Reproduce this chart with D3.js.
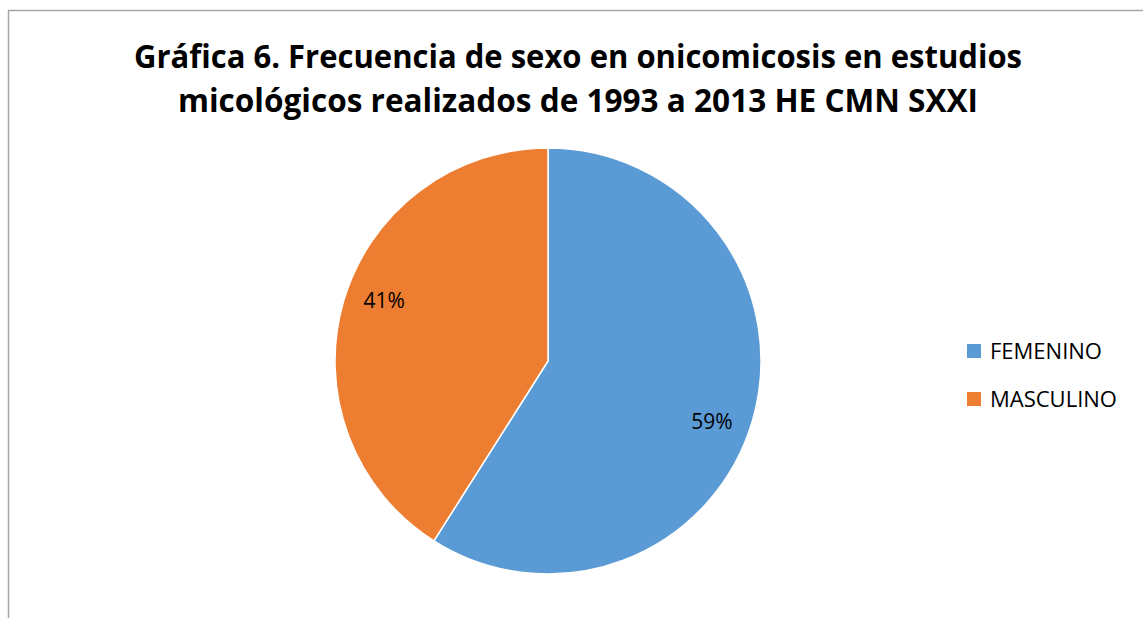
<!DOCTYPE html>
<html>
<head>
<meta charset="utf-8">
<script src="https://cdn.jsdelivr.net/npm/d3@7"></script>
<style>
  body { margin: 0; background: #fff; }
  text { font-family: "Open Sans", "Noto Sans", sans-serif; }
</style>
</head>
<body>
<svg id="chart" width="1143" height="618"></svg>
<script>
/* --- data --- */
var categories = ["FEMENINO", "MASCULINO"];
var values = [59, 41];
var colors = ["#5b9bd5", "#ed7d31"];
var titleLines = [
    "Gráfica 6. Frecuencia de sexo en onicomicosis en estudios",
    "micológicos realizados de 1993 a 2013 HE CMN SXXI"
];

/* --- layout --- */
var width = 1143, height = 618;
var cx = 548, cy = 361, radius = 213;

var svg = d3.select("#chart");

// chart frame (only left & top edges fall inside the picture)
svg.append("rect")
    .attr("x", 8.5).attr("y", 10.5)
    .attr("width", 1200).attr("height", 700)
    .attr("fill", "none")
    .attr("stroke", "#a6a6a6")
    .attr("stroke-width", 1.5);

// title
var titleWidths = [888, 800];
svg.append("g").selectAll("text")
    .data(titleLines)
    .join("text")
    .attr("x", 578)
    .attr("y", (d, i) => 68 + i * 44)
    .attr("text-anchor", "middle")
    .attr("font-size", 33)
    .attr("font-weight", "bold")
    .attr("fill", "#000")
    .attr("textLength", (d, i) => titleWidths[i])
    .attr("lengthAdjust", "spacingAndGlyphs")
    .text(d => d);

// pie
var pie = d3.pie().sort(null).value(d => d);
var arc = d3.arc().innerRadius(0).outerRadius(radius);
var arcs = pie(values);

var g = svg.append("g").attr("transform", "translate(" + cx + "," + cy + ")");

g.selectAll("path")
    .data(arcs)
    .join("path")
    .attr("d", arc)
    .attr("fill", (d, i) => colors[i])
    .attr("stroke", "#fff")
    .attr("stroke-width", 1.5);

// data labels (Excel puts them a bit further round than the mid-angle)
var labelArc = d3.arc().innerRadius(radius * 0.82).outerRadius(radius * 0.82);
g.selectAll("text.lbl")
    .data(arcs)
    .join("text")
    .attr("class", "lbl")
    .attr("transform", d => {
        var shifted = {startAngle: d.startAngle + 0.07, endAngle: d.endAngle + 0.07};
        return "translate(" + labelArc.centroid(shifted) + ")";
    })
    .attr("text-anchor", "middle")
    .attr("dy", "0.35em")
    .attr("font-size", 21)
    .attr("fill", "#000")
    .text(d => d.value + "%");

// legend
var legend = svg.append("g").attr("transform", "translate(967,344)");
var item = legend.selectAll("g")
    .data(categories)
    .join("g")
    .attr("transform", (d, i) => "translate(0," + i * 48 + ")");
item.append("rect")
    .attr("width", 14).attr("height", 14)
    .attr("fill", (d, i) => colors[i]);
item.append("text")
    .attr("x", 23).attr("y", 7)
    .attr("dy", "0.35em")
    .attr("font-size", 22)
    .attr("fill", "#000")
    .text(d => d);
</script>
</body>
</html>
